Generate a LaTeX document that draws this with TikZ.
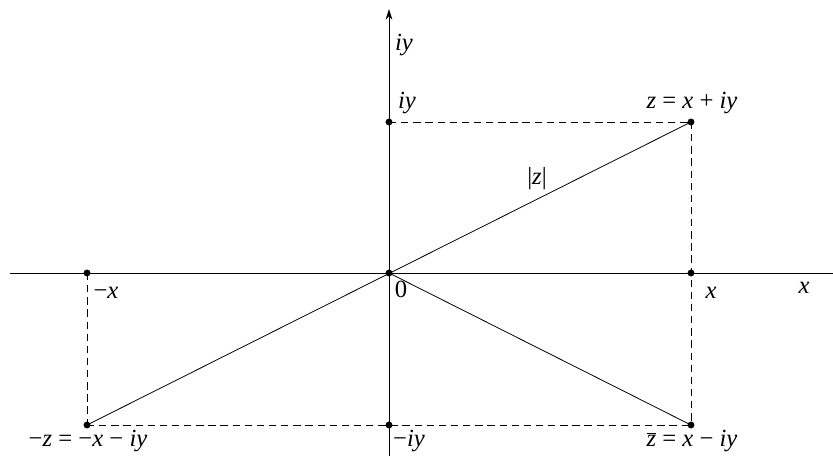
\documentclass[tikz,border=0pt]{standalone}
\usepackage{fontspec}
\setmainfont{Liberation Serif}
\usetikzlibrary{arrows.meta}
\newcommand{\vi}[1]{\textit{#1}}
\newcommand{\gapsp}{\hspace{0.25em}}
\begin{document}
\begin{tikzpicture}[x=0.75pt,y=-0.75pt,
  axis/.style={line width=0.6pt},
  guide/.style={line width=0.6pt,dash pattern=on 5.5pt off 3.6pt},
  seg/.style={line width=0.6pt},
  dot/.style={circle,fill=black,inner sep=0pt,minimum size=5.2pt},
  lab/.style={font=\fontsize{18.5}{21}\selectfont,inner sep=0pt}]
\useasboundingbox (0,0) rectangle (833,456);
% points
\node[dot] (O) at (389,273) {};
\node[dot] (Z) at (691,122) {};
\node[dot] (ZB) at (691,425) {};
\node[dot] (MZ) at (87,425) {};
\node[dot] (MX) at (87,273) {};
\node[dot] (X) at (691,273) {};
\node[dot] (IY) at (389,122) {};
\node[dot] (MIY) at (389,425) {};
\coordinate (xl) at (10,273);
\coordinate (xr) at (833,273);
\coordinate (yb) at (389,456);
\coordinate (yt) at (389,9);
% axes
\draw[axis] (xl) -- (xr);
\draw[axis,-{Stealth[length=8pt,width=5pt]}] (yb) -- (yt);
% dashed guides
\draw[guide] (IY.center) -- (Z.center);
\draw[guide] (Z.center) -- (ZB.center);
\draw[guide] (MX.center) -- (MZ.center);
\draw[guide] (MZ.center) -- (ZB.center);
% segments
\draw[seg] (MZ.center) -- (Z.center);
\draw[seg] (O.center) -- (ZB.center);
% labels
\node[lab] (tiy) at (404,45) {\vi{iy}};
\node[lab] (liy) at (407,103) {\vi{iy}};
\node[lab] (lz) at (692,103) {\vi{z}\gapsp=\gapsp\vi{x}\gapsp+\gapsp\vi{iy}};
\node[lab] (labs) at (537,179) {|\vi{z}|};
\node[lab] (l0) at (401,289) {0};
\node[lab] (lmx) at (106,293) {−\vi{x}};
\node[lab] (lx) at (711,293) {\vi{x}};
\node[lab] (tx) at (804,288) {\vi{x}};
\node[lab] (lmz) at (88,441) {−\vi{z}\gapsp=\gapsp−\vi{x}\gapsp−\gapsp\vi{iy}};
\node[lab] (lmiy) at (409,441) {−\vi{iy}};
\node[lab] (lzb) at (692,441) {$\overline{\mbox{\vi{z}}}$\gapsp=\gapsp\vi{x}\gapsp−\gapsp\vi{iy}};
\end{tikzpicture}
\end{document}
